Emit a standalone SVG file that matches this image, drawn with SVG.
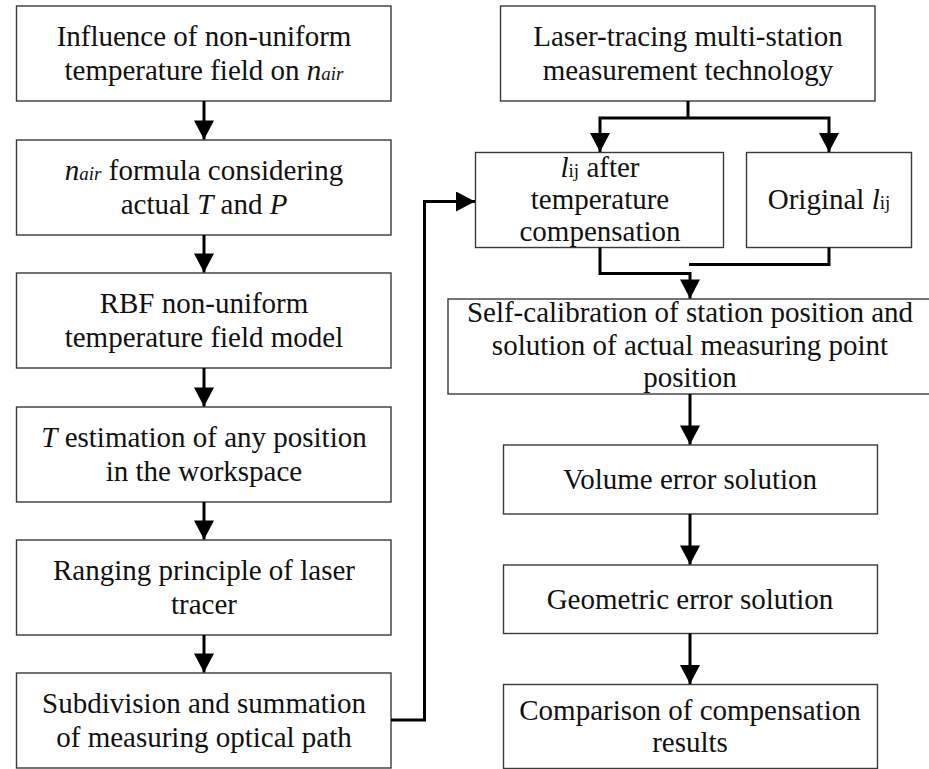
<svg xmlns="http://www.w3.org/2000/svg" width="929" height="769" viewBox="0 0 929 769">
  <style>
    .box { fill: #ffffff; stroke: #3a3a3a; stroke-width: 1.4; }
    .lbl { font-family: "Liberation Serif", "Times New Roman", serif; font-size: 29px; fill: #111111; text-anchor: middle; }
    .it { font-style: italic; }
    .sub { font-size: 19px; }
    .wire { fill: none; stroke: #000000; stroke-width: 3; stroke-linejoin: miter; }
  </style>
  <defs>
    <marker id="head" viewBox="-20 -10 20 20" refX="0" refY="0" markerWidth="20" markerHeight="20" markerUnits="userSpaceOnUse" orient="auto">
      <polygon points="-19,-10 0,0 -19,10" fill="#000000"/>
    </marker>
  </defs>
  <rect width="929" height="769" fill="#ffffff"/>

  <!-- left column -->
  <g id="n-influence">
    <rect class="box" x="16.5" y="6" width="374.5" height="95"/>
    <text class="lbl" x="204" y="46">Influence of non-uniform</text>
    <text class="lbl" x="204" y="80">temperature field on <tspan class="it">n</tspan><tspan class="it sub">air</tspan></text>
  </g>
  <g id="n-formula">
    <rect class="box" x="16.5" y="140" width="374.5" height="95"/>
    <text class="lbl" x="204" y="180"><tspan class="it">n</tspan><tspan class="it sub">air</tspan> formula considering</text>
    <text class="lbl" x="204" y="214">actual <tspan class="it">T</tspan> and <tspan class="it">P</tspan></text>
  </g>
  <g id="n-rbf">
    <rect class="box" x="16.5" y="273" width="374.5" height="95"/>
    <text class="lbl" x="204" y="313">RBF non-uniform</text>
    <text class="lbl" x="204" y="347">temperature field model</text>
  </g>
  <g id="n-estimation">
    <rect class="box" x="16.5" y="407" width="374.5" height="95"/>
    <text class="lbl" x="204" y="447"><tspan class="it">T</tspan> estimation of any position</text>
    <text class="lbl" x="204" y="481">in the workspace</text>
  </g>
  <g id="n-ranging">
    <rect class="box" x="16.5" y="540" width="374.5" height="95"/>
    <text class="lbl" x="204" y="580">Ranging principle of laser</text>
    <text class="lbl" x="204" y="614">tracer</text>
  </g>
  <g id="n-subdivision">
    <rect class="box" x="16.5" y="673" width="374.5" height="95"/>
    <text class="lbl" x="204" y="713">Subdivision and summation</text>
    <text class="lbl" x="204" y="747">of measuring optical path</text>
  </g>

  <!-- right column -->
  <g id="n-multistation">
    <rect class="box" x="500.5" y="6" width="374.5" height="95"/>
    <text class="lbl" x="688" y="46">Laser-tracing multi-station</text>
    <text class="lbl" x="688" y="80">measurement technology</text>
  </g>
  <g id="n-lij-comp">
    <rect class="box" x="475.5" y="152.5" width="248" height="95"/>
    <text class="lbl" x="600" y="177"><tspan class="it">l</tspan><tspan class="sub">ij</tspan> after</text>
    <text class="lbl" x="600" y="209">temperature</text>
    <text class="lbl" x="600" y="241">compensation</text>
  </g>
  <g id="n-lij-orig">
    <rect class="box" x="746.5" y="152.5" width="165" height="95"/>
    <text class="lbl" x="829" y="209">Original <tspan class="it">l</tspan><tspan class="sub">ij</tspan></text>
  </g>
  <g id="n-selfcal">
    <rect class="box" x="448" y="299" width="484" height="95"/>
    <text class="lbl" x="690" y="322">Self-calibration of station position and</text>
    <text class="lbl" x="690" y="355">solution of actual measuring point</text>
    <text class="lbl" x="690" y="387">position</text>
  </g>
  <g id="n-volume">
    <rect class="box" x="503.5" y="445" width="374" height="69"/>
    <text class="lbl" x="690" y="489">Volume error solution</text>
  </g>
  <g id="n-geometric">
    <rect class="box" x="503.5" y="565" width="374" height="68.5"/>
    <text class="lbl" x="690" y="609">Geometric error solution</text>
  </g>
  <g id="n-comparison">
    <rect class="box" x="503.5" y="684.5" width="374" height="84"/>
    <text class="lbl" x="690" y="720">Comparison of compensation</text>
    <text class="lbl" x="690" y="752">results</text>
  </g>

  <!-- connectors -->
  <g id="connectors">
    <path class="wire" d="M204,101 V139.5" marker-end="url(#head)"/>
    <path class="wire" d="M204,235 V272.5" marker-end="url(#head)"/>
    <path class="wire" d="M204,368 V406.5" marker-end="url(#head)"/>
    <path class="wire" d="M204,502 V539.5" marker-end="url(#head)"/>
    <path class="wire" d="M204,635 V672.5" marker-end="url(#head)"/>
    <path class="wire" d="M391,720 H424.5 V201.5 H475" marker-end="url(#head)"/>
    <path class="wire" d="M688,101 V118"/>
    <path class="wire" d="M688,118 H600 V152" marker-end="url(#head)"/>
    <path class="wire" d="M688,118 H829 V152" marker-end="url(#head)"/>
    <path class="wire" d="M600,247.5 V273.5 H690 V298.5" marker-end="url(#head)"/>
    <path class="wire" d="M829,247.5 V264.5 H689"/>
    <path class="wire" d="M690,394 V444.5" marker-end="url(#head)"/>
    <path class="wire" d="M690,514 V564.5" marker-end="url(#head)"/>
    <path class="wire" d="M690,633.5 V684" marker-end="url(#head)"/>
  </g>
</svg>
